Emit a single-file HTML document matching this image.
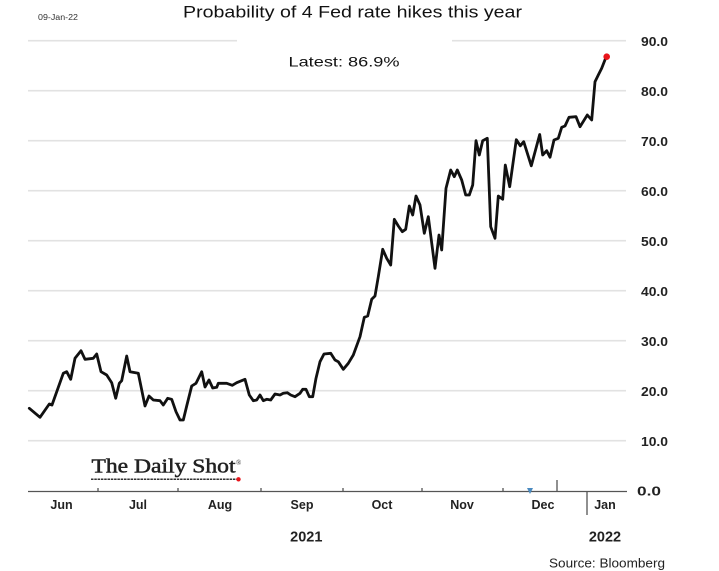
<!DOCTYPE html>
<html><head><meta charset="utf-8"><style>
html,body{margin:0;padding:0;background:#fff;}
svg{display:block;}
</style></head><body>
<svg width="719" height="571" viewBox="0 0 719 571" xmlns="http://www.w3.org/2000/svg">
<rect width="719" height="571" fill="#fff"/>
<g stroke="#e2e2e2" stroke-width="1.7" fill="none">
<line x1="28" y1="40.7" x2="237" y2="40.7"/>
<line x1="452" y1="40.7" x2="626" y2="40.7"/>
<line x1="28" y1="90.7" x2="626" y2="90.7"/>
<line x1="28" y1="140.7" x2="626" y2="140.7"/>
<line x1="28" y1="190.7" x2="626" y2="190.7"/>
<line x1="28" y1="240.7" x2="626" y2="240.7"/>
<line x1="28" y1="290.7" x2="626" y2="290.7"/>
<line x1="28" y1="340.7" x2="626" y2="340.7"/>
<line x1="28" y1="390.7" x2="626" y2="390.7"/>
<line x1="28" y1="440.7" x2="626" y2="440.7"/>
</g>
<g stroke="#555" stroke-width="1.3" fill="none">
<line x1="28" y1="491.5" x2="627" y2="491.5"/>
<line x1="98" y1="488" x2="98" y2="491.5"/>
<line x1="178" y1="488" x2="178" y2="491.5"/>
<line x1="261" y1="488" x2="261" y2="491.5"/>
<line x1="343" y1="488" x2="343" y2="491.5"/>
<line x1="422" y1="488" x2="422" y2="491.5"/>
<line x1="503" y1="488" x2="503" y2="491.5"/>
<line x1="557" y1="480" x2="557" y2="491.5"/>
<line x1="587" y1="491.5" x2="587" y2="515"/>
</g>
<path d="M527,488 L533,488 L530,494 Z" fill="#4a8ac0"/>
<polyline fill="none" stroke="#111" stroke-width="2.8" stroke-linejoin="round" stroke-linecap="round" points="
29.3,408.3 40,417.3 49.3,404 52,405 63.3,373.3 66.7,371.7 70.7,379.3 75,358.3 81,350.7 85,359.3 93.3,358.3 96.7,354 101,371.7 106.7,375 111.7,382.7 115.7,398.3 119.3,383.3 121.7,380.7 126.7,356 130,371.7 138.3,373.3 145,406 149,396 153.3,400 160,400.7 163.3,405 167.7,398.3 171.7,399.3 176,411.7 180,420 183.3,420 186.7,406 191.7,386 196,383.3 201.7,371.7 205,387 209,380 212.7,388 216.7,387.3 218.3,383.3 226.7,383.3 232.3,385.3 236.7,382.7 245,379.3 249.3,395 253.3,400.7 256.7,400 260,395 263.3,400.7 266.7,399.3 270.7,400 275,394 280,395 283.3,393.3 287.3,392.7 290.7,395 295,396.7 300,393.3 302.7,389.3 306,389.3 309.3,396.7 312.7,396.7 316,378.3 320,361.7 324,354 330.7,353.3 335,360 338.3,361.7 343.3,369.3 348.3,363.3 353.3,355 360,336.7 364.3,317.3 367.7,316 371.7,299.3 375,296 378.3,276.7 382.7,249.3 386.7,258.3 390.7,265 394.3,219.3 398.3,226 402.3,231.7 405.7,229.3 409.3,206 412.7,215 416,196 420,205 424.3,233.3 428.3,216.7 435,268.3 439,235 441.7,250 446,188.3 450.7,170 454.3,176.7 457.3,170 461.7,180 465.7,195 469.3,195 472.7,185 476,140.7 479.3,155 482.7,140.7 487.3,138.3 490.7,226.7 495,238.3 498.3,196 502.7,199.3 505.3,165 509.7,186.7 516.3,139.7 520.3,145.8 523.7,141.7 531.3,165.8 539.7,134.5 542.7,155 546.7,150.7 550,157.3 554,140 558.3,138.3 561.7,127.3 565,126 569,117.3 576,116.7 580,126.7 587.3,115 591.7,120 595,81.7 598.3,75 601.7,68.3 606,57.3"/>
<circle cx="606.7" cy="56.7" r="3.3" fill="#e8141a"/>
<g font-family="Liberation Sans, sans-serif" fill="#111">
<text x="38" y="20" font-size="8" textLength="40" lengthAdjust="spacingAndGlyphs" fill="#333">09-Jan-22</text>
<text x="183" y="17.5" font-size="17" textLength="339" lengthAdjust="spacingAndGlyphs">Probability of 4 Fed rate hikes this year</text>
<text x="288.5" y="66.7" font-size="14" textLength="111" lengthAdjust="spacingAndGlyphs">Latest:  86.9%</text>
</g>
<g font-family="Liberation Sans, sans-serif" font-weight="bold" font-size="13" fill="#222">
<text x="641" y="46.2" textLength="27" lengthAdjust="spacingAndGlyphs">90.0</text>
<text x="641" y="96.2" textLength="27" lengthAdjust="spacingAndGlyphs">80.0</text>
<text x="641" y="146.2" textLength="27" lengthAdjust="spacingAndGlyphs">70.0</text>
<text x="641" y="196.2" textLength="27" lengthAdjust="spacingAndGlyphs">60.0</text>
<text x="641" y="246.2" textLength="27" lengthAdjust="spacingAndGlyphs">50.0</text>
<text x="641" y="296.2" textLength="27" lengthAdjust="spacingAndGlyphs">40.0</text>
<text x="641" y="346.2" textLength="27" lengthAdjust="spacingAndGlyphs">30.0</text>
<text x="641" y="396.2" textLength="27" lengthAdjust="spacingAndGlyphs">20.0</text>
<text x="641" y="446.2" textLength="27" lengthAdjust="spacingAndGlyphs">10.0</text>
<text x="637" y="495.5" textLength="24" lengthAdjust="spacingAndGlyphs">0.0</text>
</g>
<g font-family="Liberation Sans, sans-serif" font-weight="bold" font-size="12.5" fill="#222" text-anchor="middle">
<text x="61.5" y="509">Jun</text>
<text x="138" y="509">Jul</text>
<text x="220" y="509">Aug</text>
<text x="302" y="509">Sep</text>
<text x="382" y="509">Oct</text>
<text x="462" y="509">Nov</text>
<text x="543" y="509">Dec</text>
<text x="605" y="509">Jan</text>
<text x="306.3" y="541.7" font-size="14.5">2021</text>
<text x="605" y="541.7" font-size="14.5">2022</text>
</g>
<text x="549" y="567.5" font-family="Liberation Sans, sans-serif" font-size="13" fill="#222" textLength="116" lengthAdjust="spacingAndGlyphs">Source: Bloomberg</text>
<g>
<text x="91.5" y="472.5" font-family="Liberation Serif, serif" font-size="20" fill="#222" stroke="#222" stroke-width="0.5" textLength="144" lengthAdjust="spacingAndGlyphs">The Daily Shot</text>
<text x="236" y="465" font-family="Liberation Serif, serif" font-size="7" fill="#2a2a2a">®</text>
<line x1="91" y1="479.3" x2="238" y2="479.3" stroke="#333" stroke-width="1.5" stroke-dasharray="2.5,0.8"/>
<circle cx="238.5" cy="479.3" r="2.2" fill="#e8141a"/>
</g>
</svg>
</body></html>
